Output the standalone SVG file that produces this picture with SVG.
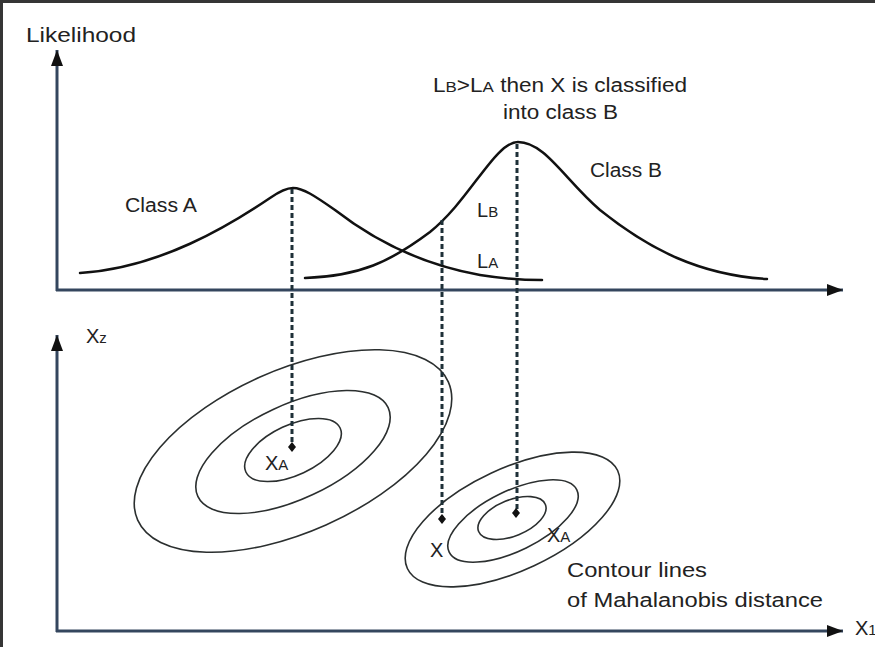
<svg xmlns="http://www.w3.org/2000/svg" width="875" height="647" viewBox="0 0 875 647">
<style>
  .t { font-family: "Liberation Sans", Arial, sans-serif; font-size: 20px; fill: #222; }
  .sc { font-size: 15px; }
  .axis { stroke: #34465e; stroke-width: 3; fill: none; }
  .curve { stroke: #111; stroke-width: 2.5; fill: none; stroke-linecap: round; }
  .ell { stroke: #2b2f2f; stroke-width: 1.6; fill: none; }
  .dash { stroke: #1e3038; stroke-width: 3; stroke-dasharray: 5 3; fill: none; }
  .dot { fill: #111; }
</style>
<defs>
  <marker id="arr" markerUnits="userSpaceOnUse" markerWidth="18" markerHeight="14" refX="16" refY="6" orient="auto">
    <path d="M0,0 L16,6 L0,12 Z" fill="#111"/>
  </marker>
</defs>
<rect x="0" y="0" width="875" height="647" fill="#fff"/>
<rect x="0" y="0" width="875" height="3" fill="#353535"/>
<rect x="0" y="0" width="3" height="647" fill="#353535"/>

<g id="top-axes">
  <line class="axis" x1="57" y1="291" x2="57" y2="50" marker-end="url(#arr)"/>
  <line class="axis" x1="56" y1="290" x2="843" y2="290" marker-end="url(#arr)"/>
</g>
<g id="bottom-axes">
  <line class="axis" x1="57" y1="632" x2="57" y2="335" marker-end="url(#arr)"/>
  <line class="axis" x1="56" y1="631" x2="843" y2="631" marker-end="url(#arr)"/>
</g>

<g id="classA-curve">
  <path class="curve" d="M80,273 C160,268 230,225 270,198 C280,191 286,188 293,188 C303,188 315,196 335,210 C380,245 430,266 480,275 C505,279 525,280 542,280"/>
</g>
<g id="classB-curve">
  <path class="curve" d="M305,278 C360,276 390,262 430,232 C470,200 495,142 518,142 C545,142 565,180 600,210 C650,250 700,275 767,279"/>
</g>

<g id="classA-contours">
  <ellipse class="ell" cx="293" cy="451" rx="170" ry="81" transform="rotate(-24 293 451)"/>
  <ellipse class="ell" cx="293" cy="452" rx="105" ry="47" transform="rotate(-25 293 452)"/>
  <ellipse class="ell" cx="293" cy="450" rx="52" ry="25" transform="rotate(-25 293 450)"/>
</g>
<g id="classB-contours">
  <ellipse class="ell" cx="512.5" cy="519.5" rx="116" ry="51" transform="rotate(-25 512.5 519.5)"/>
  <ellipse class="ell" cx="513" cy="521" rx="71" ry="30" transform="rotate(-26 513 521)"/>
  <ellipse class="ell" cx="512" cy="518" rx="36" ry="18" transform="rotate(-22 512 518)"/>
</g>

<g id="connectors">
  <line class="dash" x1="292" y1="189" x2="292" y2="445"/>
  <line class="dash" x1="442" y1="220" x2="442" y2="517"/>
  <line class="dash" x1="517" y1="144" x2="517" y2="511"/>
</g>

<g id="points">
  <polygon class="dot" points="292,442 296,447 292,452 288,447"/>
  <polygon class="dot" points="442,514 446,519 442,524 438,519"/>
  <polygon class="dot" points="516,508 520,513 516,518 512,513"/>
</g>

<g id="labels">
  <text class="t" x="26" y="42" textLength="110" lengthAdjust="spacingAndGlyphs">Likelihood</text>
  <text class="t" x="433" y="92" textLength="254" lengthAdjust="spacingAndGlyphs">L<tspan class="sc">B</tspan>&gt;L<tspan class="sc">A</tspan> then X is classified</text>
  <text class="t" x="503" y="119" textLength="115" lengthAdjust="spacingAndGlyphs">into class B</text>
  <text class="t" x="590" y="177" textLength="72" lengthAdjust="spacingAndGlyphs">Class B</text>
  <text class="t" x="125" y="212" textLength="72" lengthAdjust="spacingAndGlyphs">Class A</text>
  <text class="t" x="477" y="217">L<tspan class="sc">B</tspan></text>
  <text class="t" x="477" y="268">L<tspan class="sc">A</tspan></text>
  <text class="t" x="86" y="343">X<tspan class="sc">z</tspan></text>
  <text class="t" x="265" y="470">X<tspan class="sc">A</tspan></text>
  <text class="t" x="430" y="557">X</text>
  <text class="t" x="547" y="542">X<tspan class="sc">A</tspan></text>
  <text class="t" x="567" y="577" textLength="140" lengthAdjust="spacingAndGlyphs">Contour lines</text>
  <text class="t" x="567" y="607" textLength="256" lengthAdjust="spacingAndGlyphs">of Mahalanobis distance</text>
  <text class="t" x="855" y="635">X<tspan class="sc">1</tspan></text>
</g>
</svg>
